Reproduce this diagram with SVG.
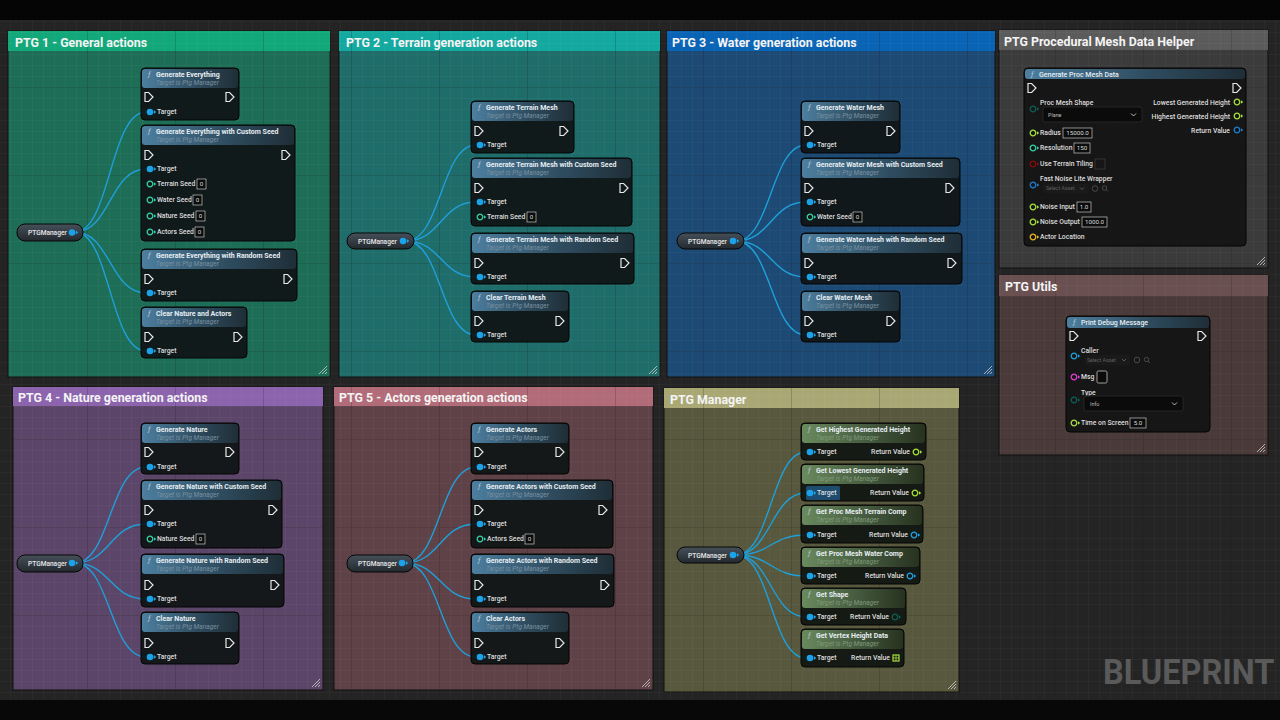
<svg xmlns="http://www.w3.org/2000/svg" xmlns:xlink="http://www.w3.org/1999/xlink" width="1280" height="720" viewBox="0 0 1280 720">
<defs>
<style>
text{font-family:Roboto,"Liberation Sans",sans-serif}
.ct{font-size:12.4px;font-weight:700;fill:#f4f4f4}
.nt{font-size:7px;font-weight:700;fill:#e6edf2}
.ns{font-size:6.6px;font-style:italic;fill:#7890a0}
.nsg{font-size:6.6px;font-style:italic;fill:#7f9a78}
.fi{font-size:7.5px;font-style:italic;fill:#b5c6d2}
.pl{font-size:6.8px;font-weight:500;fill:#dedede}
.pr{font-size:6.8px;font-weight:500;fill:#dedede;text-anchor:end}
.vt{font-size:6.2px;fill:#dadada;text-anchor:middle}
.dd{font-size:5.4px;fill:#bdbdbd}
.sa{font-size:5.2px;fill:#606060}
.nb{fill:#101516;fill-opacity:.94;stroke:#040404;stroke-width:1}
.nbg{fill:#121612;fill-opacity:.94;stroke:#040404;stroke-width:1}
.hb{fill:url(#hgB)}
.hg{fill:url(#hgG)}
.wire{fill:none;stroke:#1f9fd8;stroke-width:1.4}
.vb{fill:#0b0c0c;stroke:#c4c4c4;stroke-width:.7}
.pill{fill:url(#pillG);stroke:#060606;stroke-width:1}
.pt{font-size:6.6px;font-weight:500;fill:#e8e8e8}
.rh{fill:none;stroke:#cfcfcf;stroke-width:.8}
.ddb{fill:#0b0b0b;stroke:#2c2c2c;stroke-width:.8}
</style>
<linearGradient id="hgB" x1="0" y1="0" x2="1" y2="0">
<stop offset="0" stop-color="#4d7fa0"/><stop offset=".55" stop-color="#2f4d60"/><stop offset="1" stop-color="#1f2e37"/>
</linearGradient>
<linearGradient id="hgG" x1="0" y1="0" x2="1" y2="0">
<stop offset="0" stop-color="#6a8a5e"/><stop offset=".55" stop-color="#44593e"/><stop offset="1" stop-color="#27321f"/>
</linearGradient>
<linearGradient id="pillG" x1="0" y1="0" x2="0" y2="1">
<stop offset="0" stop-color="#46505a"/><stop offset="1" stop-color="#23292e"/>
</linearGradient>
<pattern id="gm" width="11" height="11" patternUnits="userSpaceOnUse"><path d="M11,0V11H0" fill="none" stroke="#ffffff" stroke-opacity=".05" stroke-width="1"/></pattern>
<pattern id="gM" width="88" height="88" patternUnits="userSpaceOnUse"><path d="M88,0V88H0" fill="none" stroke="#000000" stroke-opacity=".3" stroke-width="1.2"/></pattern>
<path id="ex" d="M-4,-4.5h3.6l4.4,4.5l-4.4,4.5h-3.6z" fill="none" stroke="#e8e8e8" stroke-width="1.2"/>
<g id="pt"><circle r="3.3" fill="#1ba2e8"/><path d="M3.9,-2l2.3,2l-2.3,2z" fill="#1ba2e8"/></g>
<g id="ph"><circle r="2.8" fill="none" stroke="currentColor" stroke-width="1.3"/><path d="M4,-1.8l2.2,1.8l-2.2,1.8z" fill="currentColor"/></g>
<g id="rsz"><path class="rh" d="M-8,0L0,-8M-5,0L0,-5M-2,0L0,-2"/></g>
</defs>

<!-- background -->
<rect width="1280" height="720" fill="#242424"/>

<!-- comment boxes -->
<g id="c-ptg1"><rect x="8" y="31" width="322" height="346" fill="#1e6e57" stroke="#111" stroke-width="1"/><rect x="8" y="31" width="322" height="20" fill="#12a87a"/></g>
<g id="c-ptg2"><rect x="339" y="31" width="321" height="346" fill="#1f6d6a" stroke="#111" stroke-width="1"/><rect x="339" y="31" width="321" height="20" fill="#14a9a0"/></g>
<g id="c-ptg3"><rect x="667" y="31" width="328" height="346" fill="#1c4a74" stroke="#111" stroke-width="1"/><rect x="667" y="31" width="328" height="20" fill="#0a64b6"/></g>
<g id="c-proc"><rect x="999" y="30" width="269" height="238" fill="#3b3b3b" stroke="#111" stroke-width="1"/><rect x="999" y="30" width="269" height="20" fill="#5b5b5b"/></g>
<g id="c-utils"><rect x="999" y="275" width="269" height="180" fill="#4a3a3a" stroke="#111" stroke-width="1"/><rect x="999" y="275" width="269" height="21" fill="#6a5050"/></g>
<g id="c-ptg4"><rect x="13" y="387" width="310" height="303" fill="#5b4669" stroke="#111" stroke-width="1"/><rect x="13" y="387" width="310" height="19" fill="#8c63ad"/></g>
<g id="c-ptg5"><rect x="334" y="387" width="319" height="303" fill="#5f4247" stroke="#111" stroke-width="1"/><rect x="334" y="387" width="319" height="19" fill="#b26b78"/></g>
<g id="c-manager"><rect x="664" y="388" width="295" height="304" fill="#57583d" stroke="#111" stroke-width="1"/><rect x="664" y="388" width="295" height="20" fill="#a9a874"/></g>

<!-- grid overlay -->
<rect width="1280" height="720" fill="url(#gm)"/>
<rect width="1280" height="720" fill="url(#gM)"/>
<rect width="1280" height="20" fill="#050505"/>
<rect y="700" width="1280" height="20" fill="#080808"/>

<!-- comment titles and resize handles -->
<g id="comment-titles">
<text class="ct" x="15" y="46.5">PTG 1 - General actions</text>
<text class="ct" x="346" y="46.5">PTG 2 - Terrain generation actions</text>
<text class="ct" x="672" y="46.5">PTG 3 - Water generation actions</text>
<text class="ct" x="1004" y="45.5">PTG Procedural Mesh Data Helper</text>
<text class="ct" x="1005" y="291">PTG Utils</text>
<text class="ct" x="18" y="401.5">PTG 4 - Nature generation actions</text>
<text class="ct" x="339" y="401.5">PTG 5 - Actors generation actions</text>
<text class="ct" x="670" y="403.5">PTG Manager</text>
<use href="#rsz" x="327" y="374"/>
<use href="#rsz" x="657" y="374"/>
<use href="#rsz" x="992" y="374"/>
<use href="#rsz" x="1265" y="265"/>
<use href="#rsz" x="1265" y="452"/>
<use href="#rsz" x="320" y="687"/>
<use href="#rsz" x="650" y="687"/>
<use href="#rsz" x="956" y="689"/>
</g>

<text transform="translate(1103,684) scale(1,1.1)" font-size="32.5" font-weight="700" fill="#5a5a5a" style="font-family:Roboto,'Liberation Sans',sans-serif">BLUEPRINT</text>

<!-- connectors -->
<g id="connectors">
<path class="wire" d="M75,232C110,232 110,112 146,112"/>
<path class="wire" d="M75,232C110,232 110,169 146,169"/>
<path class="wire" d="M75,232C110,232 110,293 146,293"/>
<path class="wire" d="M75,232C110,232 110,351 146,351"/>
<path class="wire" d="M406,241C441,241 441,145 476,145"/>
<path class="wire" d="M406,241C441,241 441,202 476,202"/>
<path class="wire" d="M406,241C441,241 441,277 476,277"/>
<path class="wire" d="M406,241C441,241 441,335 476,335"/>
<path class="wire" d="M736,241C771,241 771,145 806,145"/>
<path class="wire" d="M736,241C771,241 771,202 806,202"/>
<path class="wire" d="M736,241C771,241 771,277 806,277"/>
<path class="wire" d="M736,241C771,241 771,335 806,335"/>
<path class="wire" d="M75,563C110,563 110,467 146,467"/>
<path class="wire" d="M75,563C110,563 110,524 146,524"/>
<path class="wire" d="M75,563C110,563 110,599 146,599"/>
<path class="wire" d="M75,563C110,563 110,657 146,657"/>
<path class="wire" d="M405,563C440,563 440,467 476,467"/>
<path class="wire" d="M405,563C440,563 440,524 476,524"/>
<path class="wire" d="M405,563C440,563 440,599 476,599"/>
<path class="wire" d="M405,563C440,563 440,657 476,657"/>
<path class="wire" d="M736,555C771,555 771,452 806,452"/>
<path class="wire" d="M736,555C771,555 771,493 806,493"/>
<path class="wire" d="M736,555C771,555 771,535 806,535"/>
<path class="wire" d="M736,555C771,555 771,576 806,576"/>
<path class="wire" d="M736,555C771,555 771,617 806,617"/>
<path class="wire" d="M736,555C771,555 771,658 806,658"/>
</g>

<!-- PTG1 nodes -->
<g id="ptg1-manager" transform="translate(17,224)"><rect class="pill" width="66" height="17" rx="8"/><text class="pt" x="11" y="11">PTGManager</text><use href="#pt" x="55" y="8.5"/></g>
<g id="n-generate-everything" transform="translate(141,68)">
<rect class="nb" width="98" height="52" rx="4"/><rect class="hb" x="1" y="1" width="96" height="19" rx="3"/>
<text class="fi" x="7" y="9">ƒ</text><text class="nt" x="15" y="9">Generate Everything</text><text class="ns" x="15" y="17">Target is Ptg Manager</text>
<use href="#ex" x="8" y="29"/><use href="#ex" x="89" y="29"/><use href="#pt" x="9" y="44"/><text class="pl" x="16" y="46.4">Target</text>
</g>
<g id="n-generate-everything-custom" transform="translate(141,125)">
<rect class="nb" width="154" height="116" rx="4"/><rect class="hb" x="1" y="1" width="152" height="19" rx="3"/>
<text class="fi" x="7" y="9">ƒ</text><text class="nt" x="15" y="9">Generate Everything with Custom Seed</text><text class="ns" x="15" y="17">Target is Ptg Manager</text>
<use href="#ex" x="8" y="30"/><use href="#ex" x="145" y="30"/><use href="#pt" x="9" y="44"/><text class="pl" x="16" y="46.4">Target</text>
<use href="#ph" x="9" y="59" color="#34d2a4"/><text class="pl" x="16" y="61.4">Terrain Seed</text><rect class="vb" x="56" y="54" width="9" height="10"/><text class="vt" x="60.5" y="61.3">0</text>
<use href="#ph" x="9" y="75" color="#34d2a4"/><text class="pl" x="16" y="77.4">Water Seed</text><rect class="vb" x="52" y="70" width="9" height="10"/><text class="vt" x="56.5" y="77.3">0</text>
<use href="#ph" x="9" y="91" color="#34d2a4"/><text class="pl" x="16" y="93.4">Nature Seed</text><rect class="vb" x="55" y="86" width="9" height="10"/><text class="vt" x="59.5" y="93.3">0</text>
<use href="#ph" x="9" y="107" color="#34d2a4"/><text class="pl" x="16" y="109.4">Actors Seed</text><rect class="vb" x="54" y="102" width="9" height="10"/><text class="vt" x="58.5" y="109.3">0</text>
</g>
<g id="n-generate-everything-random" transform="translate(141,249)">
<rect class="nb" width="156" height="52" rx="4"/><rect class="hb" x="1" y="1" width="154" height="19" rx="3"/>
<text class="fi" x="7" y="9">ƒ</text><text class="nt" x="15" y="9">Generate Everything with Random Seed</text><text class="ns" x="15" y="17">Target is Ptg Manager</text>
<use href="#ex" x="8" y="30"/><use href="#ex" x="147" y="30"/><use href="#pt" x="9" y="44"/><text class="pl" x="16" y="46.4">Target</text>
</g>
<g id="n-clear-nature-actors" transform="translate(141,307)">
<rect class="nb" width="106" height="51" rx="4"/><rect class="hb" x="1" y="1" width="104" height="19" rx="3"/>
<text class="fi" x="7" y="9">ƒ</text><text class="nt" x="15" y="9">Clear Nature and Actors</text><text class="ns" x="15" y="17">Target is Ptg Manager</text>
<use href="#ex" x="8" y="30"/><use href="#ex" x="97" y="30"/><use href="#pt" x="9" y="44"/><text class="pl" x="16" y="46.4">Target</text>
</g>

<!-- PTG2 nodes -->
<g id="ptg2-manager" transform="translate(347,233)"><rect class="pill" width="67" height="16" rx="8"/><text class="pt" x="11" y="10.5">PTGManager</text><use href="#pt" x="56" y="8"/></g>
<g id="n-generate-terrain" transform="translate(471,101)">
<rect class="nb" width="103" height="52" rx="4"/><rect class="hb" x="1" y="1" width="101" height="19" rx="3"/>
<text class="fi" x="7" y="9">ƒ</text><text class="nt" x="15" y="9">Generate Terrain Mesh</text><text class="ns" x="15" y="17">Target is Ptg Manager</text>
<use href="#ex" x="8" y="30"/><use href="#ex" x="93" y="30"/><use href="#pt" x="9" y="44"/><text class="pl" x="16" y="46.4">Target</text>
</g>
<g id="n-generate-terrain-custom" transform="translate(471,158)">
<rect class="nb" width="161" height="68" rx="4"/><rect class="hb" x="1" y="1" width="159" height="19" rx="3"/>
<text class="fi" x="7" y="9">ƒ</text><text class="nt" x="15" y="9">Generate Terrain Mesh with Custom Seed</text><text class="ns" x="15" y="17">Target is Ptg Manager</text>
<use href="#ex" x="8" y="30"/><use href="#ex" x="153" y="30"/><use href="#pt" x="9" y="44"/><text class="pl" x="16" y="46.4">Target</text>
<use href="#ph" x="9" y="59" color="#34d2a4"/><text class="pl" x="16" y="61.4">Terrain Seed</text><rect class="vb" x="56" y="54" width="9" height="10"/><text class="vt" x="60.5" y="61.3">0</text>
</g>
<g id="n-generate-terrain-random" transform="translate(471,233)">
<rect class="nb" width="163" height="51" rx="4"/><rect class="hb" x="1" y="1" width="161" height="19" rx="3"/>
<text class="fi" x="7" y="9">ƒ</text><text class="nt" x="15" y="9">Generate Terrain Mesh with Random Seed</text><text class="ns" x="15" y="17">Target is Ptg Manager</text>
<use href="#ex" x="8" y="30"/><use href="#ex" x="154" y="30"/><use href="#pt" x="9" y="44"/><text class="pl" x="16" y="46.4">Target</text>
</g>
<g id="n-clear-terrain" transform="translate(471,291)">
<rect class="nb" width="98" height="51" rx="4"/><rect class="hb" x="1" y="1" width="96" height="19" rx="3"/>
<text class="fi" x="7" y="9">ƒ</text><text class="nt" x="15" y="9">Clear Terrain Mesh</text><text class="ns" x="15" y="17">Target is Ptg Manager</text>
<use href="#ex" x="8" y="30"/><use href="#ex" x="89" y="30"/><use href="#pt" x="9" y="44"/><text class="pl" x="16" y="46.4">Target</text>
</g>

<!-- PTG3 nodes -->
<g id="ptg3-manager" transform="translate(677,233)"><rect class="pill" width="67" height="16" rx="8"/><text class="pt" x="11" y="10.5">PTGManager</text><use href="#pt" x="56" y="8"/></g>
<g id="n-generate-water" transform="translate(801,101)">
<rect class="nb" width="99" height="52" rx="4"/><rect class="hb" x="1" y="1" width="97" height="19" rx="3"/>
<text class="fi" x="7" y="9">ƒ</text><text class="nt" x="15" y="9">Generate Water Mesh</text><text class="ns" x="15" y="17">Target is Ptg Manager</text>
<use href="#ex" x="8" y="30"/><use href="#ex" x="90" y="30"/><use href="#pt" x="9" y="44"/><text class="pl" x="16" y="46.4">Target</text>
</g>
<g id="n-generate-water-custom" transform="translate(801,158)">
<rect class="nb" width="159" height="68" rx="4"/><rect class="hb" x="1" y="1" width="157" height="19" rx="3"/>
<text class="fi" x="7" y="9">ƒ</text><text class="nt" x="15" y="9">Generate Water Mesh with Custom Seed</text><text class="ns" x="15" y="17">Target is Ptg Manager</text>
<use href="#ex" x="8" y="30"/><use href="#ex" x="149" y="30"/><use href="#pt" x="9" y="44"/><text class="pl" x="16" y="46.4">Target</text>
<use href="#ph" x="9" y="59" color="#34d2a4"/><text class="pl" x="16" y="61.4">Water Seed</text><rect class="vb" x="52" y="54" width="9" height="10"/><text class="vt" x="56.5" y="61.3">0</text>
</g>
<g id="n-generate-water-random" transform="translate(801,233)">
<rect class="nb" width="161" height="51" rx="4"/><rect class="hb" x="1" y="1" width="159" height="19" rx="3"/>
<text class="fi" x="7" y="9">ƒ</text><text class="nt" x="15" y="9">Generate Water Mesh with Random Seed</text><text class="ns" x="15" y="17">Target is Ptg Manager</text>
<use href="#ex" x="8" y="30"/><use href="#ex" x="151" y="30"/><use href="#pt" x="9" y="44"/><text class="pl" x="16" y="46.4">Target</text>
</g>
<g id="n-clear-water" transform="translate(801,291)">
<rect class="nb" width="99" height="51" rx="4"/><rect class="hb" x="1" y="1" width="97" height="19" rx="3"/>
<text class="fi" x="7" y="9">ƒ</text><text class="nt" x="15" y="9">Clear Water Mesh</text><text class="ns" x="15" y="17">Target is Ptg Manager</text>
<use href="#ex" x="8" y="30"/><use href="#ex" x="90" y="30"/><use href="#pt" x="9" y="44"/><text class="pl" x="16" y="46.4">Target</text>
</g>

<!-- PTG4 nodes -->
<g id="ptg4-manager" transform="translate(17,555)"><rect class="pill" width="66" height="17" rx="8"/><text class="pt" x="11" y="11">PTGManager</text><use href="#pt" x="55" y="8"/></g>
<g id="n-generate-nature" transform="translate(141,423)">
<rect class="nb" width="98" height="51" rx="4"/><rect class="hb" x="1" y="1" width="96" height="19" rx="3"/>
<text class="fi" x="7" y="9">ƒ</text><text class="nt" x="15" y="9">Generate Nature</text><text class="ns" x="15" y="17">Target is Ptg Manager</text>
<use href="#ex" x="8" y="29"/><use href="#ex" x="89" y="29"/><use href="#pt" x="9" y="44"/><text class="pl" x="16" y="46.4">Target</text>
</g>
<g id="n-generate-nature-custom" transform="translate(141,480)">
<rect class="nb" width="141" height="68" rx="4"/><rect class="hb" x="1" y="1" width="139" height="19" rx="3"/>
<text class="fi" x="7" y="9">ƒ</text><text class="nt" x="15" y="9">Generate Nature with Custom Seed</text><text class="ns" x="15" y="17">Target is Ptg Manager</text>
<use href="#ex" x="8" y="30"/><use href="#ex" x="132" y="30"/><use href="#pt" x="9" y="44"/><text class="pl" x="16" y="46.4">Target</text>
<use href="#ph" x="9" y="59" color="#34d2a4"/><text class="pl" x="16" y="61.4">Nature Seed</text><rect class="vb" x="55" y="54" width="9" height="10"/><text class="vt" x="59.5" y="61.3">0</text>
</g>
<g id="n-generate-nature-random" transform="translate(141,554)">
<rect class="nb" width="143" height="53" rx="4"/><rect class="hb" x="1" y="1" width="141" height="19" rx="3"/>
<text class="fi" x="7" y="9">ƒ</text><text class="nt" x="15" y="9">Generate Nature with Random Seed</text><text class="ns" x="15" y="17">Target is Ptg Manager</text>
<use href="#ex" x="8" y="31"/><use href="#ex" x="134" y="31"/><use href="#pt" x="9" y="45"/><text class="pl" x="16" y="47.4">Target</text>
</g>
<g id="n-clear-nature" transform="translate(141,612)">
<rect class="nb" width="98" height="52" rx="4"/><rect class="hb" x="1" y="1" width="96" height="19" rx="3"/>
<text class="fi" x="7" y="9">ƒ</text><text class="nt" x="15" y="9">Clear Nature</text><text class="ns" x="15" y="17">Target is Ptg Manager</text>
<use href="#ex" x="8" y="31"/><use href="#ex" x="89" y="31"/><use href="#pt" x="9" y="45"/><text class="pl" x="16" y="47.4">Target</text>
</g>

<!-- PTG5 nodes -->
<g id="ptg5-manager" transform="translate(347,555)"><rect class="pill" width="66" height="17" rx="8"/><text class="pt" x="11" y="11">PTGManager</text><use href="#pt" x="55" y="8"/></g>
<g id="n-generate-actors" transform="translate(471,423)">
<rect class="nb" width="98" height="51" rx="4"/><rect class="hb" x="1" y="1" width="96" height="19" rx="3"/>
<text class="fi" x="7" y="9">ƒ</text><text class="nt" x="15" y="9">Generate Actors</text><text class="ns" x="15" y="17">Target is Ptg Manager</text>
<use href="#ex" x="8" y="29"/><use href="#ex" x="89" y="29"/><use href="#pt" x="9" y="44"/><text class="pl" x="16" y="46.4">Target</text>
</g>
<g id="n-generate-actors-custom" transform="translate(471,480)">
<rect class="nb" width="142" height="68" rx="4"/><rect class="hb" x="1" y="1" width="140" height="19" rx="3"/>
<text class="fi" x="7" y="9">ƒ</text><text class="nt" x="15" y="9">Generate Actors with Custom Seed</text><text class="ns" x="15" y="17">Target is Ptg Manager</text>
<use href="#ex" x="8" y="30"/><use href="#ex" x="132" y="30"/><use href="#pt" x="9" y="44"/><text class="pl" x="16" y="46.4">Target</text>
<use href="#ph" x="9" y="59" color="#34d2a4"/><text class="pl" x="16" y="61.4">Actors Seed</text><rect class="vb" x="54" y="54" width="9" height="10"/><text class="vt" x="58.5" y="61.3">0</text>
</g>
<g id="n-generate-actors-random" transform="translate(471,554)">
<rect class="nb" width="143" height="53" rx="4"/><rect class="hb" x="1" y="1" width="141" height="19" rx="3"/>
<text class="fi" x="7" y="9">ƒ</text><text class="nt" x="15" y="9">Generate Actors with Random Seed</text><text class="ns" x="15" y="17">Target is Ptg Manager</text>
<use href="#ex" x="8" y="31"/><use href="#ex" x="134" y="31"/><use href="#pt" x="9" y="45"/><text class="pl" x="16" y="47.4">Target</text>
</g>
<g id="n-clear-actors" transform="translate(471,612)">
<rect class="nb" width="98" height="52" rx="4"/><rect class="hb" x="1" y="1" width="96" height="19" rx="3"/>
<text class="fi" x="7" y="9">ƒ</text><text class="nt" x="15" y="9">Clear Actors</text><text class="ns" x="15" y="17">Target is Ptg Manager</text>
<use href="#ex" x="8" y="31"/><use href="#ex" x="89" y="31"/><use href="#pt" x="9" y="45"/><text class="pl" x="16" y="47.4">Target</text>
</g>

<!-- PTG Manager nodes -->
<g id="mgr-manager" transform="translate(677,547)"><rect class="pill" width="67" height="16" rx="8"/><text class="pt" x="11" y="10.5">PTGManager</text><use href="#pt" x="56" y="8"/></g>
<g id="n-get-highest" transform="translate(801,423)">
<rect class="nbg" width="125" height="37" rx="4"/><rect class="hg" x="1" y="1" width="123" height="19" rx="3"/>
<text class="fi" x="7" y="9">ƒ</text><text class="nt" x="15" y="9">Get Highest Generated Height</text><text class="nsg" x="15" y="17">Target is Ptg Manager</text>
<use href="#pt" x="9" y="29"/><text class="pl" x="16" y="31.4">Target</text><text class="pr" x="109" y="31.4">Return Value</text><use href="#ph" x="115" y="29" color="#a6e03c"/>
</g>
<g id="n-get-lowest" transform="translate(801,464)">
<rect class="nbg" width="123" height="37" rx="4"/><rect class="hg" x="1" y="1" width="121" height="19" rx="3"/>
<text class="fi" x="7" y="9">ƒ</text><text class="nt" x="15" y="9">Get Lowest Generated Height</text><text class="nsg" x="15" y="17">Target is Ptg Manager</text>
<rect x="5" y="22" width="34" height="14" rx="1.5" fill="#1d4c6e"/>
<use href="#pt" x="9" y="29"/><text class="pl" x="16" y="31.4">Target</text><text class="pr" x="108" y="31.4">Return Value</text><use href="#ph" x="114" y="29" color="#a6e03c"/>
</g>
<g id="n-get-terrain-comp" transform="translate(801,505)">
<rect class="nbg" width="122" height="38" rx="4"/><rect class="hg" x="1" y="1" width="120" height="19" rx="3"/>
<text class="fi" x="7" y="9">ƒ</text><text class="nt" x="15" y="9">Get Proc Mesh Terrain Comp</text><text class="nsg" x="15" y="17">Target is Ptg Manager</text>
<use href="#pt" x="9" y="30"/><text class="pl" x="16" y="32.4">Target</text><text class="pr" x="107" y="32.4">Return Value</text><use href="#ph" x="113" y="30" color="#1ba2e8"/>
</g>
<g id="n-get-water-comp" transform="translate(801,547)">
<rect class="nbg" width="119" height="37" rx="4"/><rect class="hg" x="1" y="1" width="117" height="19" rx="3"/>
<text class="fi" x="7" y="9">ƒ</text><text class="nt" x="15" y="9">Get Proc Mesh Water Comp</text><text class="nsg" x="15" y="17">Target is Ptg Manager</text>
<use href="#pt" x="9" y="29"/><text class="pl" x="16" y="31.4">Target</text><text class="pr" x="103" y="31.4">Return Value</text><use href="#ph" x="109" y="29" color="#1ba2e8"/>
</g>
<g id="n-get-shape" transform="translate(801,588)">
<rect class="nbg" width="105" height="37" rx="4"/><rect class="hg" x="1" y="1" width="103" height="19" rx="3"/>
<text class="fi" x="7" y="9">ƒ</text><text class="nt" x="15" y="9">Get Shape</text><text class="nsg" x="15" y="17">Target is Ptg Manager</text>
<use href="#pt" x="9" y="29"/><text class="pl" x="16" y="31.4">Target</text><text class="pr" x="88" y="31.4">Return Value</text><use href="#ph" x="94" y="29" color="#0c5e54"/>
</g>
<g id="n-get-vertex-height" transform="translate(801,629)">
<rect class="nbg" width="103" height="38" rx="4"/><rect class="hg" x="1" y="1" width="101" height="19" rx="3"/>
<text class="fi" x="7" y="9">ƒ</text><text class="nt" x="15" y="9">Get Vertex Height Data</text><text class="nsg" x="15" y="17">Target is Ptg Manager</text>
<use href="#pt" x="9" y="29"/><text class="pl" x="16" y="31.4">Target</text><text class="pr" x="89" y="31.4">Return Value</text>
<g transform="translate(95,29)"><rect x="-3" y="-3" width="6" height="6" fill="none" stroke="#a6e03c" stroke-width="1.2"/><path d="M-3,0H3M0,-3V3" stroke="#a6e03c" stroke-width=".8"/></g>
</g>

<!-- Proc mesh node -->
<g id="n-generate-proc-mesh-data" transform="translate(1024,68)">
<rect class="nb" width="222" height="178" rx="4" style="fill:#141414"/><rect class="hb" x="1" y="1" width="220" height="10" rx="3"/>
<text class="fi" x="7" y="8.5">ƒ</text><text class="nt" x="15" y="8.5" style="font-weight:500">Generate Proc Mesh Data</text>
<use href="#ex" x="8" y="20"/><use href="#ex" x="213" y="20"/>
<text class="pl" x="16" y="36.5">Proc Mesh Shape</text>
<use href="#ph" x="9" y="41" color="#0c5e54"/>
<rect class="ddb" x="19" y="39" width="99" height="15" rx="2"/><text class="dd" x="24" y="48.5">Plane</text><path d="M107,45.5l2.5,2.5l2.5,-2.5" fill="none" stroke="#ccc" stroke-width=".9"/>
<text class="pr" x="206" y="36.5">Lowest Generated Height</text><use href="#ph" x="213" y="34" color="#a6e03c"/>
<text class="pr" x="206" y="50.5">Highest Generated Height</text><use href="#ph" x="213" y="48" color="#a6e03c"/>
<text class="pr" x="206" y="64.5">Return Value</text><use href="#ph" x="213" y="62" color="#1b7fd0"/>
<use href="#ph" x="9" y="65" color="#a6e03c"/><text class="pl" x="16" y="67.4">Radius</text><rect class="vb" x="39" y="60" width="29" height="10"/><text class="vt" x="53.5" y="67.3">15000.0</text>
<use href="#ph" x="9" y="80" color="#34d2a4"/><text class="pl" x="16" y="82.4">Resolution</text><rect class="vb" x="50" y="75" width="16" height="10"/><text class="vt" x="58" y="82.3">150</text>
<use href="#ph" x="9" y="96" color="#8a0b0b"/><text class="pl" x="16" y="98.4">Use Terrain Tiling</text><rect x="71" y="91" width="10" height="10" fill="#161616" stroke="#3a3a3a" stroke-width=".8"/>
<text class="pl" x="16" y="112.5">Fast Noise Lite Wrapper</text>
<use href="#ph" x="9" y="117" color="#1b7fd0"/>
<rect x="19" y="116" width="46" height="9" rx="1.5" fill="#1a1a1a"/><text class="sa" x="22" y="122.3">Select Asset</text><path d="M56,119.5l2,2l2,-2" fill="none" stroke="#666" stroke-width=".8"/>
<circle cx="71" cy="120.5" r="2.8" fill="none" stroke="#555" stroke-width=".8"/><circle cx="80.5" cy="120" r="2.2" fill="none" stroke="#555" stroke-width=".8"/><path d="M82,121.5l2,2" stroke="#555" stroke-width=".8"/>
<use href="#ph" x="9" y="139" color="#a6e03c"/><text class="pl" x="16" y="141.4">Noise Input</text><rect class="vb" x="53" y="134" width="14" height="10"/><text class="vt" x="60" y="141.3">1.0</text>
<use href="#ph" x="9" y="154" color="#a6e03c"/><text class="pl" x="16" y="156.4">Noise Output</text><rect class="vb" x="58" y="149" width="25" height="10"/><text class="vt" x="70.5" y="156.3">1000.0</text>
<use href="#ph" x="9" y="169" color="#e8b41c"/><text class="pl" x="16" y="171.4">Actor Location</text>
</g>

<!-- Utils node -->
<g id="n-print-debug-message" transform="translate(1066,316)">
<rect class="nb" width="144" height="116" rx="4" style="fill:#141414"/><rect class="hb" x="1" y="1" width="142" height="11" rx="3"/>
<text class="fi" x="7" y="9">ƒ</text><text class="nt" x="15" y="9" style="font-weight:500">Print Debug Message</text>
<use href="#ex" x="8" y="20"/><use href="#ex" x="136" y="20"/>
<text class="pl" x="15" y="36.5">Caller</text>
<use href="#ph" x="8" y="40" color="#1b9ed8"/>
<rect x="19" y="39" width="45" height="10" rx="1.5" fill="#1a1a1a"/><text class="sa" x="21" y="45.8">Select Asset</text><path d="M56,43l2,2l2,-2" fill="none" stroke="#666" stroke-width=".8"/>
<circle cx="71" cy="44" r="2.8" fill="none" stroke="#555" stroke-width=".8"/><circle cx="80.5" cy="43.5" r="2.2" fill="none" stroke="#555" stroke-width=".8"/><path d="M82,45l2,2" stroke="#555" stroke-width=".8"/>
<use href="#ph" x="8" y="61" color="#e03ccf"/><text class="pl" x="15" y="63.4">Msg</text><rect x="31" y="55" width="10" height="12" rx="1.5" fill="#0b0b0b" stroke="#c4c4c4" stroke-width=".8"/>
<text class="pl" x="15" y="78.5">Type</text>
<use href="#ph" x="8" y="84" color="#0c5e54"/>
<rect class="ddb" x="18" y="80" width="99" height="15" rx="2"/><text class="dd" x="24" y="89.5">Info</text><path d="M106,86.5l2.5,2.5l2.5,-2.5" fill="none" stroke="#ccc" stroke-width=".9"/>
<use href="#ph" x="8" y="107" color="#a6e03c"/><text class="pl" x="15" y="109.4">Time on Screen</text><rect class="vb" x="64" y="102" width="16" height="10"/><text class="vt" x="72" y="109.3">5.0</text>
</g>
</svg>
